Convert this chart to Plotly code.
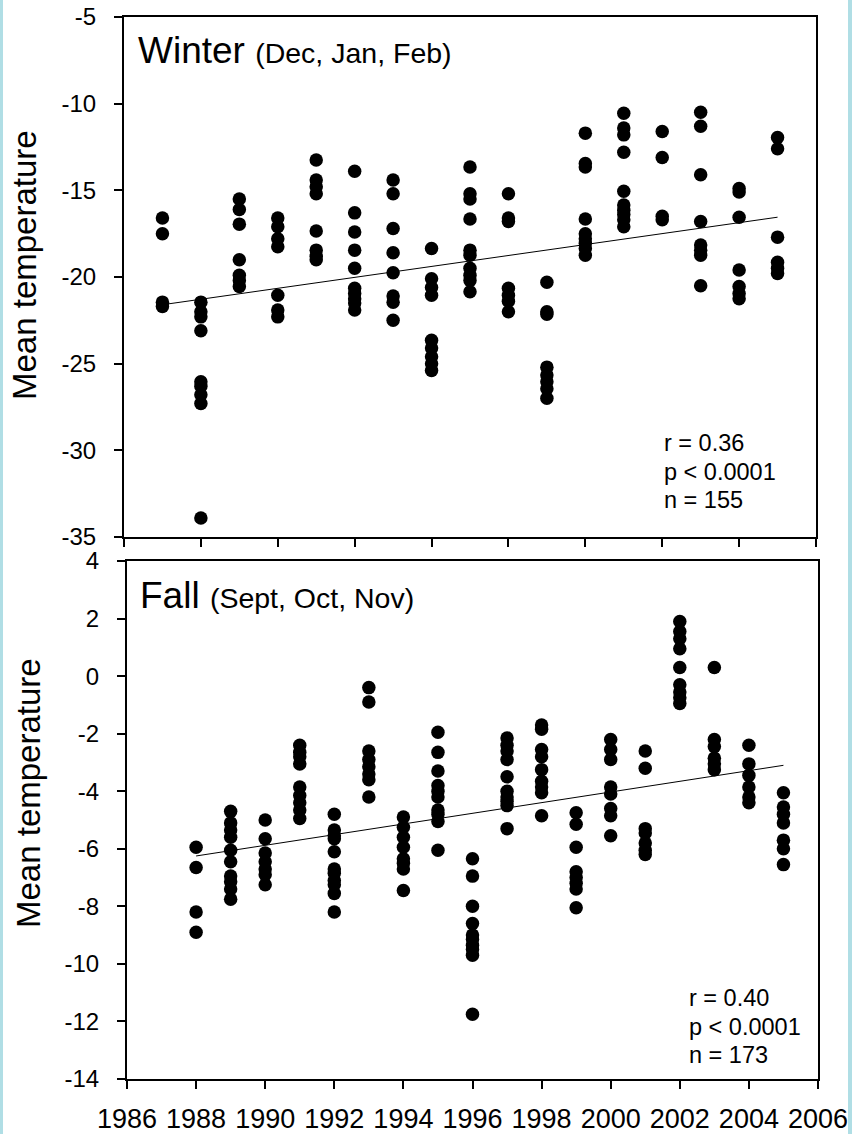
import plotly.graph_objects as go

# ---------------- data ----------------
winter_year = (
    [1987] * 4 + [1988] * 9 + [1989] * 7 + [1990] * 7 + [1991] * 8 + [1992] * 10 +
    [1993] * 8 + [1994] * 9 + [1995] * 10 + [1996] * 7 + [1997] * 8 + [1998] * 9 +
    [1999] * 10 + [2000] * 4 + [2001] * 8 + [2002] * 7 + [2003] * 6
)
winter_temp = [
    -16.6, -17.5, -21.45, -21.7,
    -21.45, -22.0, -22.3, -23.1, -26.05, -26.3, -26.8, -27.3, -33.9,
    -15.5, -16.1, -16.95, -19.0, -19.9, -20.2, -20.55,
    -16.6, -17.1, -17.8, -18.25, -21.05, -21.9, -22.3,
    -13.25, -14.4, -14.8, -15.2, -17.35, -18.45, -18.8, -19.0,
    -13.9, -16.3, -17.4, -18.45, -19.5, -20.65, -20.95, -21.25, -21.5, -21.9,
    -14.4, -15.2, -17.2, -18.6, -19.75, -21.1, -21.45, -22.5,
    -18.35, -20.1, -20.6, -21.05, -23.65, -24.1, -24.6, -25.0, -25.4,
    -13.65, -15.2, -15.5, -16.65, -18.45, -18.75, -19.5, -19.9, -20.2, -20.85,
    -15.2, -16.6, -16.8, -20.65, -21.05, -21.4, -22.0,
    -20.3, -22.0, -22.15, -25.2, -25.65, -26.05, -26.45, -27.0,
    -11.7, -13.45, -13.65, -16.65, -17.5, -17.8, -18.05, -18.35, -18.75,
    -10.55, -11.4, -11.8, -12.8, -15.05, -15.85, -16.15, -16.4, -16.7, -17.1,
    -11.6, -13.1, -16.5, -16.7,
    -10.5, -11.3, -14.1, -16.8, -18.15, -18.45, -18.75, -20.5,
    -14.9, -15.1, -16.55, -19.6, -20.55, -20.95, -21.25,
    -11.95, -12.6, -17.7, -19.15, -19.5, -19.8,
]
winter_trend_year = [1987, 2003]
winter_trend_temp = [-21.6, -16.55]

fall_year = (
    [1988] * 4 + [1989] * 10 + [1990] * 7 + [1991] * 9 + [1992] * 11 + [1993] * 8 +
    [1994] * 8 + [1995] * 10 + [1996] * 10 + [1997] * 10 + [1998] * 9 + [1999] * 8 +
    [2000] * 8 + [2001] * 7 + [2002] * 9 + [2003] * 6 + [2004] * 6 + [2005] * 7
)
fall_temp = [
    -5.95, -6.65, -8.2, -8.9,
    -4.7, -5.1, -5.35, -5.6, -6.05, -6.45, -6.95, -7.15, -7.4, -7.75,
    -5.0, -5.65, -6.15, -6.45, -6.7, -6.9, -7.25,
    -2.4, -2.65, -2.8, -3.05, -3.85, -4.15, -4.4, -4.65, -4.95,
    -4.8, -5.35, -5.55, -5.65, -6.1, -6.7, -6.85, -7.1, -7.25, -7.55, -8.2,
    -0.4, -0.9, -2.6, -2.9, -3.15, -3.4, -3.6, -4.2,
    -4.9, -5.25, -5.6, -5.95, -6.35, -6.5, -6.7, -7.45,
    -1.95, -2.65, -3.3, -3.8, -4.0, -4.2, -4.65, -4.8, -5.05, -6.05,
    -6.35, -6.95, -8.0, -8.6, -9.0, -9.15, -9.35, -9.5, -9.7, -11.75,
    -2.15, -2.4, -2.6, -2.9, -3.5, -4.0, -4.2, -4.35, -4.5, -5.3,
    -1.7, -1.85, -2.55, -2.8, -3.25, -3.65, -3.85, -4.05, -4.85,
    -4.75, -5.15, -5.95, -6.8, -7.0, -7.2, -7.4, -8.05,
    -2.2, -2.55, -2.9, -3.85, -4.1, -4.6, -4.85, -5.55,
    -2.6, -3.2, -5.3, -5.45, -5.8, -6.05, -6.2,
    1.9, 1.55, 1.3, 0.95, 0.3, -0.3, -0.55, -0.75, -0.95,
    0.3, -2.2, -2.45, -2.85, -3.05, -3.25,
    -2.4, -3.05, -3.45, -3.85, -4.2, -4.4,
    -4.05, -4.55, -4.8, -5.1, -5.7, -6.0, -6.55,
]
fall_trend_year = [1988, 2005]
fall_trend_temp = [-6.25, -3.1]

winter_yticks = [-35, -30, -25, -20, -15, -10, -5]
winter_yticklabels = ["-35", "-30", "-25", "-20", "-15", "-10", "-5"]
fall_yticks = [-14, -12, -10, -8, -6, -4, -2, 0, 2, 4]
fall_yticklabels = ["-14", "-12", "-10", "-8", "-6", "-4", "-2", "0", "2", "4"]
year_ticks = [1986, 1988, 1990, 1992, 1994, 1996, 1998, 2000, 2002, 2004, 2006]
year_ticklabels = [str(y) for y in year_ticks]
winter_xticks = [1986, 1988, 1990, 1992, 1994, 1996, 1998, 2000, 2002, 2004]

winter_stats = ["r = 0.36", "p &lt; 0.0001", "n = 155"]
fall_stats = ["r = 0.40", "p &lt; 0.0001", "n = 173"]
y_title = "Mean temperature"

# ---------------- layout geometry ----------------
W, H = 852, 1134
FONT = "Liberation Sans, Arial, sans-serif"


def px(x):
    return x / W


def py(y):
    return 1 - y / H


fig = go.Figure()
marker = dict(color="black", size=13.5, line=dict(width=0))
fig.add_trace(go.Scatter(x=winter_year, y=winter_temp, mode="markers",
                         marker=marker, xaxis="x", yaxis="y", showlegend=False))
fig.add_trace(go.Scatter(x=winter_trend_year, y=winter_trend_temp, mode="lines",
                         line=dict(color="black", width=1), xaxis="x", yaxis="y",
                         showlegend=False))
fig.add_trace(go.Scatter(x=fall_year, y=fall_temp, mode="markers",
                         marker=marker, xaxis="x2", yaxis="y2", showlegend=False))
fig.add_trace(go.Scatter(x=fall_trend_year, y=fall_trend_temp, mode="lines",
                         line=dict(color="black", width=1), xaxis="x2", yaxis="y2",
                         showlegend=False))

axis_common = dict(showgrid=False, zeroline=False, showline=True, linecolor="black",
                   linewidth=2, mirror=True, ticks="outside", ticklen=8, tickwidth=1.5,
                   tickcolor="black", automargin=False, tickmode="array",
                   tickfont=dict(family=FONT, size=24, color="black"))

fig.update_layout(
    template="none",
    width=W, height=H,
    margin=dict(l=0, r=0, t=0, b=0, pad=0),
    paper_bgcolor="white", plot_bgcolor="white",
    xaxis=dict(axis_common, domain=[px(124), px(816)], range=[1986, 2004],
               tickvals=winter_xticks, showticklabels=False, anchor="y"),
    yaxis=dict(axis_common, domain=[py(537), py(17)], range=[-35, -5],
               tickvals=winter_yticks, ticktext=winter_yticklabels, anchor="x",
               ticklabelstandoff=13),
    xaxis2=dict(axis_common, domain=[px(127), px(818)], range=[1986, 2006],
                tickvals=year_ticks, ticktext=year_ticklabels, anchor="y2",
                ticklabelstandoff=7,
                tickfont=dict(family=FONT, size=27, color="black")),
    yaxis2=dict(axis_common, domain=[py(1079), py(561)], range=[-14, 4],
                tickvals=fall_yticks, ticktext=fall_yticklabels, anchor="x2",
                ticklabelstandoff=13),
)

annotations = [
    dict(text=y_title, x=px(25), y=py(265), textangle=-90),
    dict(text=y_title, x=px(28), y=py(793), textangle=-90),
]
for a in annotations:
    a.update(xref="paper", yref="paper", showarrow=False, xanchor="center",
             yanchor="middle", font=dict(family=FONT, size=33, color="black"))

titles = [
    dict(text="Winter <span style='font-size:28.5px'>(Dec, Jan, Feb)</span>",
         x=px(136), y=py(28), xanchor="left", yanchor="top"),
    dict(text="Fall <span style='font-size:28.5px'>(Sept, Oct, Nov)</span>",
         x=px(138), y=py(573), xanchor="left", yanchor="top"),
]
for a in titles:
    a.update(xref="paper", yref="paper", showarrow=False,
             font=dict(family=FONT, size=37, color="black"))
annotations += titles

# statistics, one line each
for lines, x0, y0 in [(winter_stats, 662, 443), (fall_stats, 687, 998)]:
    for i, line in enumerate(lines):
        annotations.append(dict(
            text=line, x=px(x0), y=py(y0 + 28.5 * i), xref="paper", yref="paper",
            showarrow=False, xanchor="left", yanchor="middle",
            font=dict(family=FONT, size=23.5, color="black")))

fig.update_layout(annotations=annotations)

# light blue frame strips at the left and right edges
border = "#B0DEE5"
fig.add_shape(type="rect", xref="paper", yref="paper", x0=0, x1=px(3), y0=0, y1=1,
              fillcolor=border, line=dict(width=0), layer="above")
fig.add_shape(type="rect", xref="paper", yref="paper", x0=px(848), x1=1, y0=0, y1=1,
              fillcolor=border, line=dict(width=0), layer="above")

fig.write_html("out.html")
